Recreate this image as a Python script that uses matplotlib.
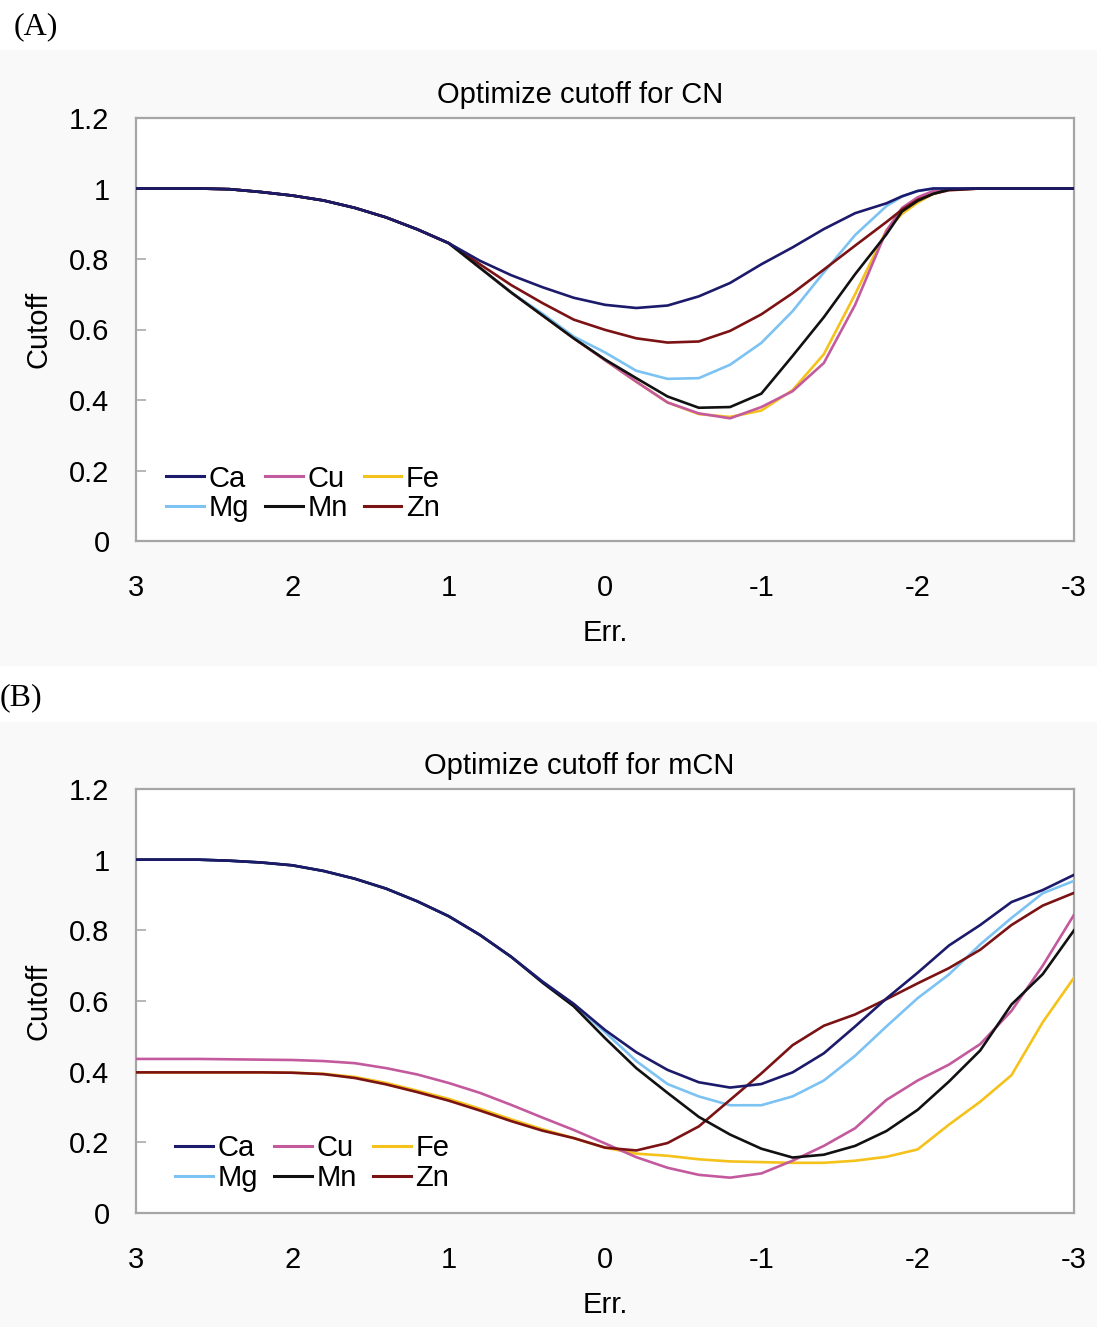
import matplotlib
matplotlib.use("Agg")
import matplotlib.pyplot as plt
from matplotlib.patches import Rectangle

plt.rcParams["font.family"] = ["Liberation Sans", "DejaVu Sans"]

# ---- data -------------------------------------------------------------
series_names = ["Ca", "Mg", "Cu", "Mn", "Fe", "Zn"]
series_colors = {
    "Ca": "#1c1a6a",
    "Mg": "#7cc2f2",
    "Cu": "#c45a9e",
    "Mn": "#111111",
    "Fe": "#f5c21b",
    "Zn": "#7b1214",
}

# Panel A: cutoff optimised for CN
err_a = [3.0, 2.6, 2.4, 2.2, 2.0, 1.8, 1.6, 1.4, 1.2, 1.0, 0.8, 0.6, 0.4, 0.2,
         0.0, -0.2, -0.4, -0.6, -0.8, -1.0, -1.2, -1.4, -1.6, -1.8, -1.9, -2.0,
         -2.1, -2.2, -2.4, -3.0]
cn_ca = [1.0, 1.0, 0.998, 0.99, 0.98, 0.966, 0.945, 0.918, 0.884, 0.845, 0.795,
         0.754, 0.72, 0.69, 0.67, 0.661, 0.668, 0.694, 0.732, 0.785, 0.833,
         0.885, 0.93, 0.958, 0.978, 0.993, 1.0, 1.0, 1.0, 1.0]
cn_mg = [1.0, 1.0, 0.998, 0.99, 0.98, 0.966, 0.945, 0.918, 0.884, 0.845, 0.775,
         0.705, 0.645, 0.58, 0.535, 0.483, 0.46, 0.462, 0.5, 0.562, 0.652,
         0.762, 0.868, 0.95, 0.977, 0.993, 1.0, 1.0, 1.0, 1.0]
cn_cu = [1.0, 1.0, 0.998, 0.99, 0.98, 0.966, 0.945, 0.918, 0.884, 0.845, 0.775,
         0.705, 0.64, 0.575, 0.513, 0.452, 0.393, 0.362, 0.348, 0.38, 0.425,
         0.505, 0.67, 0.88, 0.945, 0.975, 0.993, 1.0, 1.0, 1.0]
cn_mn = [1.0, 1.0, 0.998, 0.99, 0.98, 0.966, 0.945, 0.918, 0.884, 0.845, 0.775,
         0.705, 0.64, 0.575, 0.515, 0.462, 0.41, 0.378, 0.38, 0.418, 0.525,
         0.635, 0.757, 0.87, 0.935, 0.965, 0.985, 0.997, 1.0, 1.0]
cn_fe = [1.0, 1.0, 0.998, 0.99, 0.98, 0.966, 0.945, 0.918, 0.884, 0.845, 0.775,
         0.705, 0.64, 0.575, 0.513, 0.452, 0.393, 0.36, 0.352, 0.37, 0.428,
         0.53, 0.70, 0.882, 0.928, 0.96, 0.985, 0.997, 1.0, 1.0]
cn_zn = [1.0, 1.0, 0.998, 0.99, 0.98, 0.966, 0.945, 0.918, 0.884, 0.845, 0.785,
         0.726, 0.675, 0.628, 0.599, 0.575, 0.563, 0.566, 0.596, 0.643, 0.703,
         0.77, 0.838, 0.905, 0.94, 0.968, 0.985, 0.995, 1.0, 1.0]

# Panel B: cutoff optimised for mCN
err_b = [3.0, 2.6, 2.4, 2.2, 2.0, 1.8, 1.6, 1.4, 1.2, 1.0, 0.8, 0.6, 0.4, 0.2,
         0.0, -0.2, -0.4, -0.6, -0.8, -1.0, -1.2, -1.4, -1.6, -1.8, -2.0,
         -2.2, -2.4, -2.6, -2.8, -3.0]
mcn_ca = [1.0, 1.0, 0.997, 0.992, 0.984, 0.968, 0.946, 0.918, 0.882, 0.84,
          0.787, 0.725, 0.655, 0.592, 0.518, 0.455, 0.405, 0.37, 0.355, 0.365,
          0.398, 0.452, 0.528, 0.607, 0.68, 0.757, 0.815, 0.88, 0.914, 0.957]
mcn_mg = [1.0, 1.0, 0.997, 0.992, 0.984, 0.968, 0.946, 0.918, 0.882, 0.84,
          0.787, 0.725, 0.655, 0.59, 0.512, 0.43, 0.365, 0.33, 0.305, 0.305,
          0.33, 0.375, 0.445, 0.528, 0.608, 0.675, 0.76, 0.835, 0.905, 0.94]
mcn_cu = [0.436, 0.436, 0.435, 0.434, 0.433, 0.43, 0.424, 0.41, 0.392, 0.368,
          0.34, 0.306, 0.27, 0.235, 0.197, 0.158, 0.128, 0.108, 0.1, 0.112,
          0.148, 0.19, 0.24, 0.32, 0.375, 0.42, 0.478, 0.572, 0.70, 0.844]
mcn_mn = [1.0, 1.0, 0.997, 0.992, 0.984, 0.968, 0.946, 0.918, 0.882, 0.84,
          0.787, 0.725, 0.652, 0.585, 0.495, 0.41, 0.34, 0.272, 0.222, 0.182,
          0.157, 0.165, 0.19, 0.232, 0.292, 0.372, 0.46, 0.59, 0.676, 0.80]
mcn_fe = [0.398, 0.398, 0.398, 0.398, 0.397, 0.394, 0.385, 0.368, 0.346, 0.323,
          0.295, 0.265, 0.237, 0.212, 0.185, 0.168, 0.162, 0.152, 0.146, 0.144,
          0.142, 0.142, 0.148, 0.159, 0.18, 0.25, 0.315, 0.39, 0.54, 0.666]
mcn_zn = [0.398, 0.398, 0.398, 0.398, 0.397, 0.393, 0.382, 0.364, 0.342, 0.318,
          0.29, 0.26, 0.233, 0.212, 0.185, 0.177, 0.198, 0.245, 0.32, 0.395,
          0.475, 0.53, 0.562, 0.605, 0.65, 0.693, 0.745, 0.815, 0.87, 0.906]

panel_a = {"Ca": cn_ca, "Mg": cn_mg, "Cu": cn_cu, "Mn": cn_mn, "Fe": cn_fe, "Zn": cn_zn}
panel_b = {"Ca": mcn_ca, "Mg": mcn_mg, "Cu": mcn_cu, "Mn": mcn_mn, "Fe": mcn_fe, "Zn": mcn_zn}

x_ticks = [3, 2, 1, 0, -1, -2, -3]
x_tick_labels = ["3", "2", "1", "0", "-1", "-2", "-3"]
y_ticks = [0, 0.2, 0.4, 0.6, 0.8, 1.0, 1.2]
y_tick_labels = ["0", "0.2", "0.4", "0.6", "0.8", "1", "1.2"]

# draw order: light lines first so dark ones sit on top
draw_order = ["Fe", "Cu", "Mg", "Zn", "Mn", "Ca"]

FS = 21

W, H = 1097, 1327
fig = plt.figure(figsize=(W / 100, H / 100), dpi=100)
fig.patch.set_facecolor("white")

# faint grey chart-area backgrounds
for top, bot in [(50, 666), (722, 1327)]:
    fig.patches.append(Rectangle((0, 1 - bot / H), 1, (bot - top) / H,
                                 transform=fig.transFigure, facecolor="#f9f9f9",
                                 edgecolor="none", zorder=-10))


def make_panel(rect, xs, data, title, legend_anchor):
    ax = fig.add_axes(rect)
    ax.set_zorder(5)
    ax.set_facecolor("white")
    for name in draw_order:
        ax.plot(xs, data[name], color=series_colors[name], lw=1.9, zorder=3,
                solid_joinstyle="round")
    ax.set_xlim(3, -3)
    ax.set_ylim(0, 1.2)
    ax.set_xticks(x_ticks)
    ax.set_xticklabels(x_tick_labels)
    ax.set_yticks(y_ticks)
    ax.set_yticklabels(y_tick_labels)
    ax.tick_params(axis="x", length=0, pad=24, labelsize=FS)
    ax.tick_params(axis="y", direction="in", length=7, width=1.2, color="#aaaaaa",
                   pad=19, labelsize=FS)
    for s in ax.spines.values():
        s.set_color("#a6a6a6")
        s.set_linewidth(1.6)
    ax.set_title(title, fontsize=FS, pad=11, x=0.473)
    ax.set_xlabel("Err.", fontsize=FS, labelpad=12)
    ax.set_ylabel("Cutoff", fontsize=FS, labelpad=12)

    handles = {name: plt.Line2D([], [], color=series_colors[name], lw=2.2)
               for name in series_names}
    ax.legend([handles[n] for n in series_names], series_names, ncol=3,
              loc="lower left", bbox_to_anchor=legend_anchor, frameon=False,
              fontsize=FS, handlelength=1.3, handletextpad=0.15,
              columnspacing=0.55, labelspacing=0.05, borderpad=0,
              borderaxespad=0)
    return ax


left = 136 / W
width = (1074 - 136) / W
ax_a = make_panel([left, 1 - 541 / H, width, 423 / H], err_a, panel_a,
                  "Optimize cutoff for CN", (0.032, 0.045))
ax_b = make_panel([left, 1 - 1213 / H, width, 424 / H], err_b, panel_b,
                  "Optimize cutoff for mCN", (0.042, 0.05))

fig.text(14 / W, 1 - 27 / H, "(A)", fontsize=23, va="center", ha="left",
         family=["Liberation Serif", "DejaVu Serif"])
fig.text(0 / W, 1 - 698 / H, "(B)", fontsize=23, va="center", ha="left",
         family=["Liberation Serif", "DejaVu Serif"])

fig.savefig("out.png", dpi=100)
